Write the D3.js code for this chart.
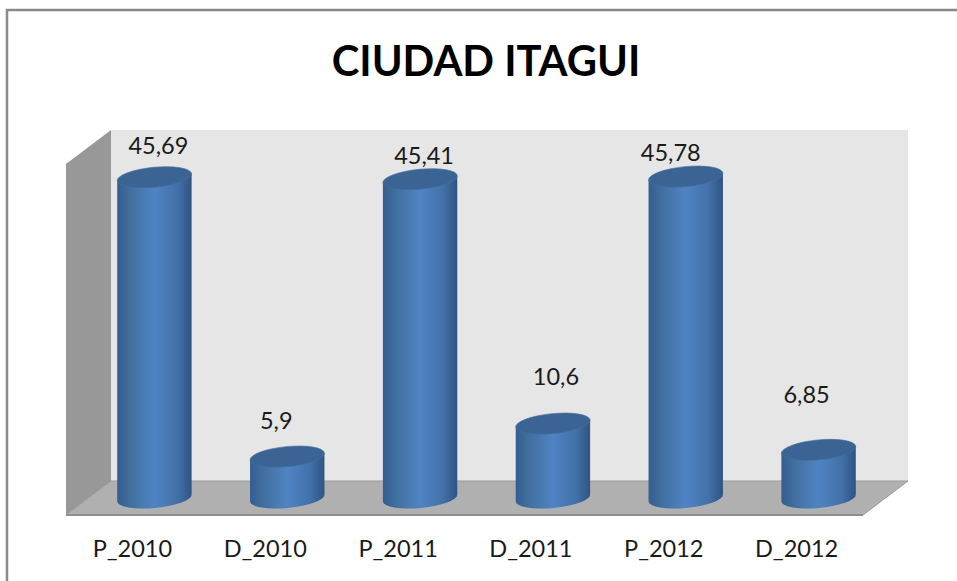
<!DOCTYPE html>
<html lang="en">
<head>
<meta charset="utf-8">
<title>CIUDAD ITAGUI</title>
<script src="https://d3js.org/d3.v7.min.js"></script>
<style>
  html, body { margin: 0; background: #fff; }
  svg { display: block; }
  text { font-family: Lato, "Open Sans", sans-serif; fill: #1a1a1a; }
</style>
</head>
<body>
<div id="chart"></div>
<script>
  var categories = ["P_2010", "D_2010", "P_2011", "D_2011", "P_2012", "D_2012"]
  var values = [45.69, 5.9, 45.41, 10.6, 45.78, 6.85]
  var valueLabels = ["45,69", "5,9", "45,41", "10,6", "45,78", "6,85"]

  // the data labels sit at hand placed spots in the original, so nudge each one
  var labelNudgeX = [4, -11, 4, 3, -15, -12]
  var labelNudgeY = [-31, -36, -23, -47, -24, -55]

  var width = 957, height = 581

  // scales live on the front plane of the box, depth moves things to the back
  var plotLeft = 66, plotRight = 863, plotBottom = 515, plotTop = 164
  var depthX = 45, depthY = 34

  var x = d3.scaleBand().domain(categories).range([plotLeft, plotRight]).paddingInner(.44).paddingOuter(.22)
  var y = d3.scaleLinear().domain([0, 50]).range([plotBottom, plotTop])

  var svg = d3.select("#chart").append("svg").attr("width", width).attr("height", height)

  var grad = svg.append("defs").append("linearGradient").attr("id", "cyl")
  grad.append("stop").attr("offset", "0%").attr("stop-color", "#345d90")
  grad.append("stop").attr("offset", "18%").attr("stop-color", "#41709f")
  grad.append("stop").attr("offset", "50%").attr("stop-color", "#5083c4")
  grad.append("stop").attr("offset", "80%").attr("stop-color", "#4372aa")
  grad.append("stop").attr("offset", "100%").attr("stop-color", "#2e5483")

  // outer chart border, only top and left are in the picture
  svg.append("path").attr("d", "M7,581V10H957").attr("fill", "none").attr("stroke", "#8a8a8a").attr("stroke-width", 2.5)

  // box walls
  svg.append("path")
    .attr("d", d3.line()([[plotLeft + depthX, plotTop - depthY], [plotRight + depthX, plotTop - depthY], [plotRight + depthX, plotBottom - depthY], [plotLeft + depthX, plotBottom - depthY]]) + "Z")
    .attr("fill", "#e6e6e6")
  svg.append("path")
    .attr("d", d3.line()([[plotLeft, plotTop], [plotLeft + depthX, plotTop - depthY], [plotLeft + depthX, plotBottom - depthY], [plotLeft, plotBottom]]) + "Z")
    .attr("fill", "#989898")
  svg.append("path")
    .attr("d", d3.line()([[plotLeft, plotBottom], [plotLeft + depthX, plotBottom - depthY], [plotRight + depthX, plotBottom - depthY], [plotRight, plotBottom]]) + "Z")
    .attr("fill", "#b0b0b0")
    .attr("stroke", "#9a9a9a")
    .attr("stroke-width", 1)
  svg.append("line")
    .attr("x1", plotLeft).attr("x2", plotRight)
    .attr("y1", plotBottom).attr("y2", plotBottom)
    .attr("stroke", "#8f8f8f")
    .attr("stroke-width", 2)

  // cylinders
  var shiftX = 22, shiftY = 17, tilt = -5.5, ry = 10
  var bars = svg.append("g").selectAll("g").data(categories).enter().append("g")
    .attr("transform", function(d) { return "translate(" + (x(d) + x.bandwidth() / 2 + shiftX) + ",0)" })

  var rx = x.bandwidth() / 2 / Math.cos(-tilt * Math.PI / 180)
  var dip = x.bandwidth() / 2 * Math.tan(-tilt * Math.PI / 180)

  bars.append("path")
    .attr("d", function(d, i) {
      var w = x.bandwidth() / 2
      var t = y(values[i]) - shiftY, b = y(0) - shiftY
      return "M" + (-w) + "," + (t + dip) + "L" + (-w) + "," + (b + dip) +
        "A" + rx + "," + ry + " " + tilt + " 0 0 " + w + "," + (b - dip) +
        "L" + w + "," + (t - dip) + "Z"
    })
    .attr("fill", "url(#cyl)")

  bars.append("ellipse")
    .attr("rx", rx)
    .attr("ry", ry)
    .attr("fill", "#3b6494")
    .attr("stroke", "#44709f")
    .attr("stroke-width", .6)
    .attr("transform", function(d, i) { return "translate(0," + (y(values[i]) - shiftY) + ") rotate(" + tilt + ")" })

  // data labels
  svg.append("g").selectAll("text").data(categories).enter().append("text")
    .attr("x", function(d, i) { return x(d) + x.bandwidth() / 2 + shiftX + labelNudgeX[i] })
    .attr("y", function(d, i) { return y(values[i]) - shiftY + labelNudgeY[i] })
    .attr("dy", ".35em")
    .attr("text-anchor", "middle")
    .style("font-size", "23.5px")
    .text(function(d, i) { return valueLabels[i] })

  // category axis
  var axis = svg.append("g").attr("transform", "translate(0," + plotBottom + ")")
    .call(d3.axisBottom(x).tickSize(0).tickPadding(25))
  axis.select(".domain").remove()
  axis.selectAll("text").style("font-size", "23.5px").style("font-family", "Lato, sans-serif").attr("fill", "#1a1a1a")

  svg.append("text")
    .attr("x", 486)
    .attr("y", 76)
    .attr("text-anchor", "middle")
    .style("font-size", "41.7px")
    .style("font-weight", "700")
    .style("fill", "#000")
    .text("CIUDAD ITAGUI")
</script>
</body>
</html>
